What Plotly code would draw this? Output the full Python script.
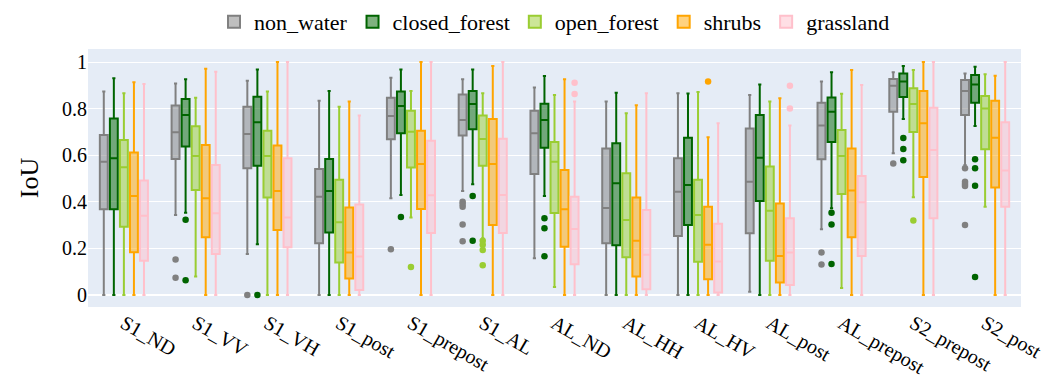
import plotly.graph_objects as go

categories = ["S1_ND", "S1_VV", "S1_VH", "S1_post", "S1_prepost", "S1_AL", "AL_ND",
              "AL_HH", "AL_HV", "AL_post", "AL_prepost", "S2_prepost", "S2_post"]
groups = ["non_water", "closed_forest", "open_forest", "shrubs", "grassland"]

non_water_lower = [0, 0.343, 0.176, 0, 0.415, 0.446, 0.157, 0, 0, 0.013, 0.282, 0.608, 0.558]
non_water_q1 = [0.368, 0.584, 0.544, 0.222, 0.668, 0.684, 0.519, 0.222, 0.253, 0.265, 0.582, 0.787, 0.773]
non_water_med = [0.572, 0.698, 0.691, 0.422, 0.768, 0.751, 0.694, 0.373, 0.443, 0.486, 0.727, 0.898, 0.876]
non_water_q3 = [0.687, 0.813, 0.808, 0.541, 0.847, 0.861, 0.791, 0.629, 0.587, 0.715, 0.825, 0.927, 0.923]
non_water_upper = [0.873, 0.908, 0.920, 0.834, 0.933, 0.926, 0.891, 0.830, 0.866, 0.858, 0.916, 0.956, 0.951]
non_water_out_cat = [1, 1, 2, 4, 5, 5, 5, 5, 5, 10, 10, 11, 12, 12, 12, 12, 12]
non_water_out_val = [0.152, 0.074, 0.0, 0.196, 0.40, 0.39, 0.379, 0.302, 0.230, 0.182, 0.130, 0.564,
                     0.544, 0.486, 0.476, 0.468, 0.300]

closed_forest_lower = [0, 0.353, 0.217, 0, 0.429, 0.475, 0.425, 0, 0, 0, 0.372, 0.755, 0.725]
closed_forest_q1 = [0.368, 0.637, 0.555, 0.268, 0.694, 0.711, 0.632, 0.213, 0.300, 0.403, 0.657, 0.850, 0.825]
closed_forest_med = [0.587, 0.773, 0.741, 0.446, 0.811, 0.820, 0.751, 0.479, 0.472, 0.589, 0.787, 0.916, 0.904]
closed_forest_q3 = [0.758, 0.841, 0.851, 0.584, 0.873, 0.876, 0.821, 0.651, 0.675, 0.773, 0.848, 0.951, 0.944]
closed_forest_upper = [0.930, 0.926, 0.968, 0.876, 0.968, 0.968, 0.940, 0.868, 0.865, 0.904, 0.956, 0.983, 0.980]
closed_forest_out_cat = [1, 1, 2, 4, 5, 5, 6, 6, 6, 10, 10, 10, 11, 11, 11, 12, 12, 12, 12]
closed_forest_out_val = [0.323, 0.063, 0.0, 0.335, 0.425, 0.232, 0.329, 0.286, 0.166, 0.353, 0.302, 0.133,
                         0.674, 0.627, 0.578, 0.582, 0.544, 0.469, 0.077]

open_forest_lower = [0, 0.079, 0, 0, 0.332, 0.243, 0.034, 0, 0, 0, 0.030, 0.419, 0.379]
open_forest_q1 = [0.293, 0.451, 0.418, 0.139, 0.547, 0.555, 0.352, 0.162, 0.142, 0.147, 0.433, 0.700, 0.625]
open_forest_med = [0.548, 0.597, 0.597, 0.312, 0.701, 0.670, 0.572, 0.322, 0.343, 0.361, 0.597, 0.820, 0.801]
open_forest_q3 = [0.665, 0.724, 0.705, 0.494, 0.791, 0.770, 0.657, 0.522, 0.494, 0.551, 0.708, 0.887, 0.854]
open_forest_upper = [0.866, 0.847, 0.873, 0.808, 0.876, 0.866, 0.858, 0.780, 0.871, 0.830, 0.864, 0.966, 0.948]
open_forest_out_cat = [4, 5, 5, 5, 5, 11]
open_forest_out_val = [0.120, 0.233, 0.215, 0.193, 0.127, 0.320]

shrubs_lower = [0, 0, 0, 0, 0, 0, 0, 0, 0, 0, 0, 0, 0]
shrubs_q1 = [0.183, 0.248, 0.279, 0.070, 0.369, 0.300, 0.207, 0.079, 0.067, 0.053, 0.248, 0.506, 0.461]
shrubs_med = [0.425, 0.415, 0.446, 0.182, 0.562, 0.562, 0.368, 0.233, 0.215, 0.167, 0.448, 0.737, 0.675]
shrubs_q3 = [0.612, 0.644, 0.642, 0.375, 0.705, 0.755, 0.536, 0.418, 0.379, 0.393, 0.629, 0.876, 0.834]
shrubs_upper = [0.913, 0.971, 1.0, 0.830, 1.0, 0.983, 0.926, 0.814, 0.677, 0.844, 0.966, 1.0, 0.941]
shrubs_out_cat = [8]
shrubs_out_val = [0.916]

grassland_lower = [0, 0, 0, 0, 0, 0, 0, 0, 0, 0, 0, 0, 0]
grassland_q1 = [0.147, 0.176, 0.205, 0.021, 0.266, 0.266, 0.132, 0.024, 0.010, 0.043, 0.167, 0.329, 0.379]
grassland_med = [0.340, 0.351, 0.332, 0.165, 0.428, 0.429, 0.283, 0.172, 0.143, 0.182, 0.398, 0.622, 0.534]
grassland_q3 = [0.491, 0.558, 0.587, 0.388, 0.662, 0.671, 0.422, 0.365, 0.305, 0.329, 0.511, 0.804, 0.741]
grassland_upper = [0.906, 0.958, 1.0, 0.770, 1.0, 1.0, 0.830, 0.866, 0.737, 0.728, 0.901, 1.0, 1.0]
grassland_out_cat = [6, 6, 9, 9]
grassland_out_val = [0.911, 0.863, 0.898, 0.801]

colors = ["grey", "darkgreen", "yellowgreen", "orange", "pink"]

stats = {
    "non_water": (non_water_lower, non_water_q1, non_water_med, non_water_q3, non_water_upper,
                  non_water_out_cat, non_water_out_val),
    "closed_forest": (closed_forest_lower, closed_forest_q1, closed_forest_med, closed_forest_q3,
                      closed_forest_upper, closed_forest_out_cat, closed_forest_out_val),
    "open_forest": (open_forest_lower, open_forest_q1, open_forest_med, open_forest_q3,
                    open_forest_upper, open_forest_out_cat, open_forest_out_val),
    "shrubs": (shrubs_lower, shrubs_q1, shrubs_med, shrubs_q3, shrubs_upper,
               shrubs_out_cat, shrubs_out_val),
    "grassland": (grassland_lower, grassland_q1, grassland_med, grassland_q3, grassland_upper,
                  grassland_out_cat, grassland_out_val),
}

spacing = 0.14
box_w = 0.11
FONT = "Liberation Serif, Times New Roman, serif"

fig = go.Figure()
for gi, g in enumerate(groups):
    lo, q1, med, q3, up, oc, ov = stats[g]
    off = (gi - 2) * spacing
    xs = [i + off for i in range(len(categories))]
    fig.add_trace(go.Box(
        x=xs, q1=q1, median=med, q3=q3, lowerfence=lo, upperfence=up,
        name=g, width=box_w, whiskerwidth=0.4, boxpoints=False,
        line=dict(color=colors[gi], width=2), legendgroup=g,
    ))
    fig.add_trace(go.Scatter(
        x=[c + off for c in oc], y=ov, mode="markers",
        marker=dict(color=colors[gi], size=6.5), showlegend=False, legendgroup=g,
        hoverinfo="y",
    ))

fig.update_layout(
    width=1054, height=380,
    margin=dict(l=88, r=33, t=49, b=73, autoexpand=False),
    template="plotly",
    font=dict(family=FONT, size=20, color="black"),
    boxmode="overlay",
    legend=dict(orientation="h", x=0.5, xanchor="center", y=1.105, yanchor="middle",
                font=dict(family=FONT, size=22)),
    xaxis=dict(tickmode="array", tickvals=list(range(len(categories))), ticktext=categories,
               range=[-0.5, len(categories) - 0.5], showgrid=False, zeroline=False,
               tickangle=30, automargin=False, tickfont=dict(family=FONT, size=20)),
    yaxis=dict(title=dict(text="IoU", font=dict(family=FONT, size=26)),
               range=[-0.052, 1.056], tickvals=[0, 0.2, 0.4, 0.6, 0.8, 1],
               ticktext=["0", "0.2", "0.4", "0.6", "0.8", "1"], automargin=False,
               tickfont=dict(family=FONT, size=20)),
)

fig.write_html("out.html")
